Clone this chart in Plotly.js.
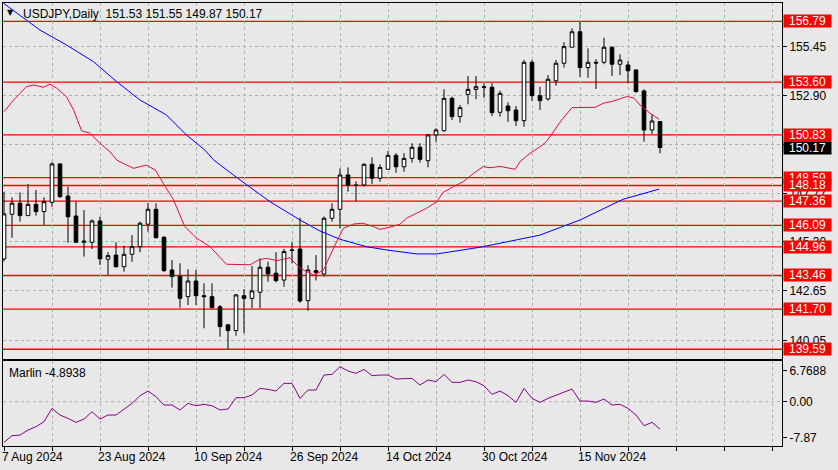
<!DOCTYPE html>
<html><head><meta charset="utf-8">
<script src="https://cdn.plot.ly/plotly-3.0.1.min.js"></script>
<style>html,body{margin:0;padding:0;background:#e8e8e8;}#chart{width:838px;height:470px;}</style>
</head><body><div id="chart"></div>
<script>
// ---- data (bar index 0 = 7 Aug 2024) ----
const openP  = [144.33,146.67,147.25,146.60,147.19,146.81,147.30,149.31,147.63,146.58,145.20,145.20,146.32,144.31,144.53,143.92,144.57,144.97,146.15,146.93,145.46,143.75,143.43,142.35,143.17,142.40,142.35,141.82,140.87,140.57,142.40,142.26,142.58,143.89,143.58,143.22,144.80,144.85,142.14,143.72,143.54,146.46,146.93,148.73,148.21,148.21,149.29,148.56,149.03,149.76,149.16,149.60,150.18,149.48,150.83,151.05,152.75,151.79,152.96,153.22,153.36,153.33,152.02,152.35,152.14,151.58,154.64,152.89,152.72,153.67,154.59,155.43,156.24,154.36,154.64,154.64,155.43,154.54,154.50,154.24,153.14,151.09,151.53];
const highP  = [147.85,147.56,147.82,148.26,147.94,147.56,149.40,149.34,148.12,147.33,146.89,146.40,146.55,144.68,145.20,145.02,145.58,146.28,147.25,147.25,145.53,144.27,144.10,143.79,143.75,143.05,143.05,141.91,140.92,142.49,142.74,143.96,144.36,144.18,144.68,144.85,145.20,146.49,144.00,144.53,146.55,147.25,149.08,149.13,148.40,149.34,149.66,149.29,149.99,149.87,149.87,150.39,150.39,150.88,151.18,153.22,152.84,152.40,153.92,153.92,153.54,153.54,153.15,152.54,152.35,154.76,154.76,153.36,153.97,154.76,155.69,156.42,156.77,155.37,154.80,155.93,155.46,155.06,154.71,154.27,153.22,151.93,151.55];
const lowP   = [144.20,145.44,146.28,146.60,146.60,146.11,147.07,147.54,145.18,145.18,144.45,144.85,144.01,143.49,143.88,143.66,144.18,144.68,145.76,145.41,143.66,142.82,141.77,141.91,141.91,140.69,141.74,140.25,139.61,140.30,140.43,141.74,141.74,143.13,143.10,142.87,144.10,142.03,141.61,143.20,143.40,146.28,145.93,147.85,147.36,148.12,148.26,148.38,148.99,148.85,148.90,149.38,149.38,149.13,150.48,151.00,151.61,151.47,152.44,152.70,152.78,151.82,151.79,151.52,151.30,151.26,152.63,152.14,152.63,153.41,154.36,155.43,153.88,153.83,153.24,154.54,153.92,153.97,153.54,153.05,150.48,150.88,149.87];
const closeP = [146.69,147.25,146.60,147.19,146.81,147.33,149.31,147.59,146.54,145.20,145.26,146.32,144.33,144.50,143.92,144.57,144.97,146.20,146.93,145.44,143.71,143.40,142.26,143.17,142.40,142.35,141.77,140.78,140.57,142.44,142.26,142.65,143.89,143.54,143.19,144.71,144.78,142.12,143.75,143.62,146.46,146.93,148.73,148.21,148.18,149.29,148.56,149.13,149.76,149.16,149.60,150.18,149.55,150.83,151.09,152.75,151.79,152.26,153.22,153.36,153.33,152.00,153.01,152.10,151.58,154.64,152.89,152.63,153.75,154.59,155.46,156.24,154.36,154.64,154.60,155.43,154.54,154.76,154.20,153.10,151.09,151.56,150.17];

const redMaBar   = [0,1.2,2.8,3.7,4.9,5.75,6.6,7.8,8.7,9.7,10.75,12,13.25,14.1,14.9,16.2,17.8,18.9,19.9,21.2,22.6,24.1,25.75,27.8,30.75,31.8,32.8,34.1,35.75,37,38.7,39.9,41.2,42.4,43.7,44.9,46.2,47,48.25,49.5,50.3,51.6,52.8,54.1,54.9,56.2,57.4,58.7,59.9,60.75,62,63.9,64.5,65.75,67,67.8,68.7,69.7,71,73.9,74.9,76.2,77.8,78.7,79.5,80.75,81.9];
const redMaVal   = [152.05,152.66,153.36,153.45,153.33,153.49,153.28,152.84,152.14,151.05,150.92,150.39,149.95,149.51,149.34,149.08,149.25,148.99,148.30,147.42,146.02,145.41,144.97,144.05,144.02,144.27,144.36,144.24,144.39,143.84,143.49,143.72,144.90,145.93,146.16,146.20,146.02,145.88,145.99,146.15,146.46,146.72,146.98,147.33,147.82,148.12,148.38,148.82,149.17,149.11,149.18,149.03,149.43,149.87,150.21,150.48,151.00,151.61,152.26,152.28,152.49,152.61,152.84,152.78,152.40,151.97,151.65];
const blueMaBar  = [-0.1,4.5,7.8,11.2,14.1,17,20.3,22.8,25.1,26.2,29.5,33.25,37,39.5,42,45.3,47.8,51.6,54.1,57,59.5,62,67,72,77.4,81.9];
const blueMaVal  = [157.75,156.33,155.55,154.67,153.62,152.66,151.88,150.83,150.04,149.52,148.47,147.33,146.37,145.79,145.36,144.97,144.80,144.59,144.59,144.76,144.94,145.15,145.58,146.37,147.46,147.99];

const marlin = [-8.84,-7.39,-7.25,-6.16,-5.43,-4.35,-1.45,-2.90,-3.62,-4.49,-3.77,-2.17,-3.77,-2.90,-2.90,-1.59,-0.36,1.30,2.32,1.09,-0.72,-0.72,-1.81,-0.36,-0.87,-0.58,-0.87,-1.81,-1.59,0.87,0.87,1.45,2.90,2.68,2.32,3.99,3.99,0.72,2.54,2.54,5.80,5.94,7.61,6.67,6.16,7.03,5.65,5.80,5.80,4.93,4.93,5.07,3.62,4.71,4.35,5.94,4.20,4.20,4.71,4.35,3.48,1.59,2.32,1.30,-0.14,2.90,0.72,-0.14,0.72,1.45,2.17,2.75,0.14,0.14,-0.14,0.58,-0.72,-0.58,-1.45,-2.90,-5.22,-4.49,-5.94];

const levels = [156.79,153.60,150.83,148.59,148.18,147.36,146.09,144.96,143.46,141.70,139.59];
const currentPrice = 150.17;
const priceTickVals = [155.45,152.90,150.35,147.77,145.25,142.65,140.05];
const priceTickText = ['155.45','152.90','','147.77','145.30','142.65','140.05'];
const marlinTickVals = [6.7688,0,-7.87];
const marlinTickText = ['6.7688','0.00','-7.87'];
const dateBars   = [0,12,24,36,48,60,72];
const dateLabels = ['7 Aug 2024','23 Aug 2024','10 Sep 2024','26 Sep 2024','14 Oct 2024','30 Oct 2024','15 Nov 2024'];
const header = 'USDJPY,Daily  151.53 151.55 149.87 150.17';
const marlinLabel = 'Marlin -4.8938';

// ---- drawing ----
const idx = openP.map((_, i) => i);
const FONT = 'Liberation Sans, Arial, sans-serif';
const BG = '#e8e8e8';
const GRID = '#b0b0b0';

const traces = [
  {type:'scatter', mode:'lines', x:blueMaBar, y:blueMaVal, line:{color:'#0000ff', width:1}, xaxis:'x', yaxis:'y', hoverinfo:'skip'},
  {type:'scatter', mode:'lines', x:redMaBar, y:redMaVal, line:{color:'#e0103c', width:1}, xaxis:'x', yaxis:'y', hoverinfo:'skip'},
  {type:'candlestick', x:idx, open:openP, high:highP, low:lowP, close:closeP, xaxis:'x', yaxis:'y',
   whiskerwidth:0,
   increasing:{fillcolor:'#ffffff', line:{color:'#000000', width:1}},
   decreasing:{fillcolor:'#000000', line:{color:'#000000', width:1}}},
  {type:'scatter', mode:'lines', x:idx, y:marlin, line:{color:'#880088', width:1}, xaxis:'x2', yaxis:'y2', hoverinfo:'skip'}
];

const shapes = levels.map(v => ({type:'line', xref:'paper', x0:0, x1:1, yref:'y', y0:v, y1:v, layer:'between', line:{color:'#ff0000', width:1.3}}));
shapes.push({type:'line', xref:'paper', x0:0, x1:1, yref:'y2', y0:0, y1:0, layer:'between', line:{color:GRID, width:1, dash:'3px,3px'}});

const boxLabel = (v, bg) => ({xref:'paper', x:1, xanchor:'left', xshift:1, yref:'y', y:v, yanchor:'middle',
  text:v.toFixed(2), showarrow:false, bgcolor:bg, borderpad:0, width:47, height:12, align:'center', valign:'middle',
  font:{family:FONT, size:12, color:'#ffffff'}});
const annotations = [];
levels.forEach(v => annotations.push(boxLabel(v, '#ff0000')));
annotations.push(boxLabel(currentPrice, '#000000'));
annotations.push({xref:'paper', x:0, xanchor:'left', xshift:2, yref:'paper', y:1, yanchor:'top', yshift:-3, text:'▼', showarrow:false, font:{family:'DejaVu Sans', size:8, color:'#000000'}});
annotations.push({xref:'paper', x:0, xanchor:'left', xshift:18, yref:'paper', y:1, yanchor:'top', yshift:-2, text:header.replace(/  /g,'&nbsp;&nbsp;'), showarrow:false, font:{family:FONT, size:12, color:'#000000'}});
annotations.push({xref:'paper', x:0, xanchor:'left', xshift:4, yref:'y2 domain', y:1, yanchor:'top', yshift:-3, text:marlinLabel, showarrow:false, font:{family:FONT, size:12, color:'#000000'}});
dateBars.forEach((b, i) => annotations.push({xref:'x2', x:b, xanchor:'left', xshift:-4, yref:'paper', y:0, yanchor:'top', yshift:-2, text:dateLabels[i], showarrow:false, font:{family:FONT, size:12, color:'#000000'}}));

const xCommon = {range:[-0.125, 97.25], showgrid:true, gridcolor:GRID, griddash:'3px,3px', gridwidth:1, tick0:0, dtick:6, zeroline:false,
  showline:true, mirror:true, linecolor:'#000000', linewidth:1, showticklabels:false, fixedrange:true};

const layout = {
  width:838, height:470, paper_bgcolor:BG, plot_bgcolor:BG,
  margin:{l:3, r:56, t:3, b:24, pad:0},
  showlegend:false, boxgap:0.35,
  font:{family:FONT, size:12, color:'#000000'},
  xaxis:Object.assign({}, xCommon, {anchor:'y', domain:[0,1], rangeslider:{visible:false}, ticks:''}),
  xaxis2:Object.assign({}, xCommon, {anchor:'y2', domain:[0,1], matches:'x', ticks:'outside', ticklen:4, tickcolor:'#000000'}),
  yaxis:{domain:[0.1964,1], range:[139.08,157.75], side:'right', tickvals:priceTickVals, ticktext:priceTickText,
    ticks:'outside', ticklen:4, tickcolor:'#000000', showgrid:true, gridcolor:GRID, griddash:'3px,3px', zeroline:false,
    showline:true, mirror:true, linecolor:'#000000', linewidth:1, tickfont:{family:FONT, size:12, color:'#000000'}, fixedrange:true},
  yaxis2:{domain:[0,0.1919], range:[-9.63,8.85], side:'right', tickvals:marlinTickVals, ticktext:marlinTickText,
    ticks:'outside', ticklen:4, tickcolor:'#000000', showgrid:false, zeroline:false,
    showline:true, mirror:true, linecolor:'#000000', linewidth:1, tickfont:{family:FONT, size:12, color:'#000000'}, fixedrange:true},
  shapes:shapes, annotations:annotations
};

Plotly.newPlot('chart', traces, layout, {staticPlot:true, displayModeBar:false});
</script></body></html>
